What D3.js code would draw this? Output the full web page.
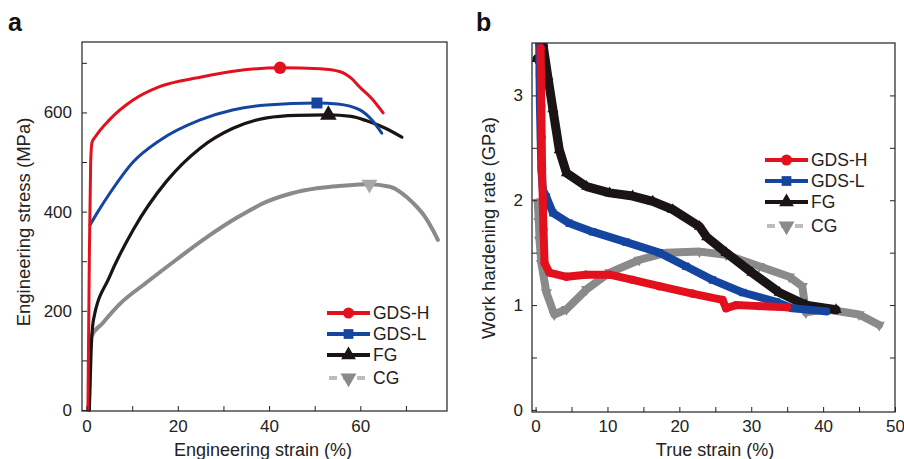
<!DOCTYPE html>
<html><head><meta charset="utf-8">
<script src="https://cdn.jsdelivr.net/npm/d3@7"></script>
<style>
body{margin:0;background:#fff;}
text{font-family:"Liberation Sans",Arial,sans-serif;}
</style></head>
<body><svg id="c" width="904" height="459"></svg>
<script>
// ---------- Panel a data: engineering stress-strain ----------
const seriesNames = ["GDS-H","GDS-L","FG","CG"];
const colors = {"GDS-H":"#e3101d","GDS-L":"#1446a0","FG":"#1a1414","CG":"#8a8a8a"};
const aGDSH = [[0.3,0],[0.6,300],[0.9,500],[1.2,540],[2,552],[5,585],[10.2,625],[16,652],[24.9,671],[33,684],[42.4,690],[51.2,688],[55.6,682],[58,669],[59.9,651],[62.5,628],[65,599]];
const aGDSL = [[0.75,373],[2.5,400],[5.1,437],[10.2,500],[16.1,544],[24.9,585],[32,605],[39.5,615],[50.5,619],[55,617],[59.9,605],[62.5,585],[64.7,558]];
const aFG = [[0.6,0],[1.0,120],[1.5,181],[5,268],[10.2,363],[17.6,462],[24.9,528],[32.1,568],[39.5,589],[46,594],[52.9,595],[58,592],[61.4,583],[65.5,568],[69.1,550]];
const aCG = [[0.5,0],[0.7,100],[1.0,147],[3.5,175],[7.3,214],[13,256],[19.8,304],[26,346],[33,388],[39.5,420],[45,437],[50.5,447],[56,452],[61.7,455],[66.5,450],[69,438],[71.6,417],[74,392],[75.9,363],[77,343]];
const aMarkers = {"GDS-H":[42.4,690],"GDS-L":[50.5,619],"FG":[53,595],"CG":[62,455]};
const aXTicks = [0,20,40,60], aYTicks = [0,200,400,600];

// ---------- Panel b data: work hardening rate vs true strain ----------
const bGDSH = [[0.7,3.45],[0.75,3.2],[0.8,2.9],[0.85,2.6],[0.9,2.3],[1.0,2.0],[1.1,1.72],[1.25,1.4],[1.9,1.31],[4.3,1.27],[7,1.29],[10.3,1.29],[13.5,1.24],[17.2,1.18],[21.8,1.11],[26,1.05],[26.5,0.97],[27.9,1.0],[31.1,0.99],[35,0.98]];
const bGDSL = [[0.5,3.5],[0.55,3.2],[0.6,2.9],[0.7,2.6],[0.8,2.3],[1.0,2.1],[1.5,2.03],[2.4,1.88],[4.7,1.78],[7.9,1.7],[12.6,1.6],[17.2,1.5],[20.9,1.37],[24.6,1.24],[28.8,1.12],[33.5,1.03],[35.7,0.97],[40.4,0.94]];
const bFG = [[0.2,3.35],[0.7,3.33],[1.0,3.5],[1.7,3.18],[2.4,2.87],[3.3,2.48],[4.3,2.26],[7.1,2.13],[10.3,2.07],[13.5,2.04],[16.3,1.99],[19.1,1.91],[22.8,1.75],[23.8,1.65],[26.5,1.5],[30.1,1.31],[33.9,1.12],[37.6,1.0],[41.8,0.955]];
const bCG = [[0.3,1.98],[0.45,1.8],[0.55,1.62],[0.8,1.4],[1.5,1.12],[2.6,0.91],[4.3,0.96],[7.1,1.15],[10.3,1.31],[14.4,1.43],[18.2,1.5],[22.8,1.51],[26.5,1.48],[31.1,1.37],[35.3,1.27],[37.1,1.18],[37.6,0.93],[40.4,0.96],[45,0.91],[47.8,0.81]];
const bXTicks = [0,10,20,30,40,50], bYTicks = [0,1,2,3];

const svg = d3.select("#c");
const symbolOf = {"GDS-H":d3.symbolCircle,"GDS-L":d3.symbolSquare,"FG":d3.symbolTriangle,"CG":d3.symbolTriangle};
function marker(g,name,x,y,size){
  const p = g.append("path").attr("d",d3.symbol(symbolOf[name],size)())
    .attr("fill",colors[name]);
  let tr = `translate(${x},${y})`;
  if(name==="CG") tr += " rotate(180)";
  p.attr("transform",tr);
  return p;
}
function styleAxis(g){
  g.select(".domain").remove();
  g.selectAll("line").attr("stroke","#222");
  g.selectAll("text").attr("font-size",17).attr("fill","#222");
}

// ===== Panel a =====
const ax = d3.scaleLinear().domain([-1,79]).range([82,447]);
const ay = d3.scaleLinear().domain([-2,742]).range([411,42]);
const ga = svg.append("g");
const la = d3.line().x(d=>ax(d[0])).y(d=>ay(d[1])).curve(d3.curveMonotoneX);
[["CG",aCG,4],["FG",aFG,3.2],["GDS-L",aGDSL,3],["GDS-H",aGDSH,3]].forEach(([n,d,w])=>{
  ga.append("path").attr("d",la(d)).attr("fill","none").attr("stroke",colors[n])
    .attr("stroke-width",w).attr("stroke-linejoin","round").attr("stroke-linecap","round");
});
Object.entries(aMarkers).forEach(([n,v])=>{
  marker(ga,n,ax(v[0]),ay(v[1]),n==="CG"?110:120).attr("fill",n==="CG"?"#a8a8a8":colors[n]);
});
ga.append("rect").attr("x",82).attr("y",42).attr("width",365).attr("height",369)
  .attr("fill","none").attr("stroke","#222").attr("stroke-width",1.2);
ga.append("g").attr("transform","translate(0,411)")
  .call(d3.axisBottom(ax).tickValues([0,10,20,30,40,50,60,70]).tickSizeInner(-5).tickSizeOuter(0).tickPadding(9)
    .tickFormat(d=>aXTicks.includes(d)?d:""))
  .call(styleAxis);
ga.append("g").attr("transform","translate(82,0)")
  .call(d3.axisLeft(ay).tickValues([0,100,200,300,400,500,600,700]).tickSizeInner(-5).tickSizeOuter(0).tickPadding(10)
    .tickFormat(d=>aYTicks.includes(d)?d:""))
  .call(styleAxis);
ga.append("text").attr("x",263).attr("y",456).attr("text-anchor","middle").attr("font-size",18).attr("fill","#222").text("Engineering strain (%)");
ga.append("text").attr("transform","translate(30,222) rotate(-90)").attr("text-anchor","middle").attr("font-size",18.5).attr("fill","#222").text("Engineering stress (MPa)");
ga.append("text").attr("x",8).attr("y",31).attr("font-size",25).attr("font-weight","bold").attr("fill","#111").text("a");

// ===== Panel b =====
const bx = d3.scaleLinear().domain([-0.5,50]).range([532,895]);
const by = d3.scaleLinear().domain([-0.02,3.5]).range([412,43]);
const gb = svg.append("g");
const defs = svg.append("defs");
defs.append("clipPath").attr("id","clipb").append("rect").attr("x",532).attr("y",43).attr("width",363).attr("height",369);
const plotB = gb.append("g").attr("clip-path","url(#clipb)");
const lb = d3.line().x(d=>bx(d[0])).y(d=>by(d[1])).curve(d3.curveLinear);
[["CG",bCG],["FG",bFG],["GDS-L",bGDSL],["GDS-H",bGDSH]].forEach(([n,d])=>{
  plotB.append("path").attr("d",lb(d)).attr("fill","none").attr("stroke",colors[n])
    .attr("stroke-width",n==="FG"?9:8).attr("stroke-linejoin","round").attr("stroke-linecap","round");
  d.forEach(p=>marker(plotB,n,bx(p[0]),by(p[1]),55));
});
gb.append("rect").attr("x",532).attr("y",43).attr("width",363).attr("height",369)
  .attr("fill","none").attr("stroke","#222").attr("stroke-width",1.2);
gb.append("g").attr("transform","translate(0,412)")
  .call(d3.axisBottom(bx).tickValues(d3.range(0,51,5)).tickSizeInner(-5).tickSizeOuter(0).tickPadding(8)
    .tickFormat(d=>bXTicks.includes(d)?d:""))
  .call(styleAxis);
gb.append("g").attr("transform","translate(532,0)")
  .call(d3.axisLeft(by).tickValues([0,0.5,1,1.5,2,2.5,3]).tickSizeInner(-5).tickSizeOuter(0).tickPadding(9)
    .tickFormat(d=>bYTicks.includes(d)?d:""))
  .call(styleAxis);
gb.append("g").attr("transform","translate(895,0)")
  .call(d3.axisRight(by).tickValues([0.5,1,1.5,2,2.5,3]).tickSizeInner(-5).tickSizeOuter(0).tickFormat(""))
  .call(styleAxis);
gb.append("text").attr("x",715).attr("y",456).attr("text-anchor","middle").attr("font-size",18).attr("fill","#222").text("True strain (%)");
gb.append("text").attr("transform","translate(495,228) rotate(-90)").attr("text-anchor","middle").attr("font-size",18.5).attr("fill","#222").text("Work hardening rate (GPa)");
gb.append("text").attr("x",476).attr("y",31).attr("font-size",25).attr("font-weight","bold").attr("fill","#111").text("b");

// ===== Legends =====
function legend(g,x0,x1,ys){
  seriesNames.forEach((n,i)=>{
    const y = ys[i];
    const c = n==="CG" ? "#bdbdbd" : colors[n];
    const ln = g.append("line").attr("x1",x0).attr("x2",x1).attr("y1",y).attr("y2",y)
      .attr("stroke",c).attr("stroke-width",4);
    if(n==="CG") ln.attr("stroke-dasharray","8,6").attr("stroke-dashoffset",-2);
    marker(g,n,(x0+x1)/2,y,n==="CG"?110:95).attr("fill",n==="CG"?"#8a8a8a":colors[n]);
    g.append("text").attr("x",x1+3).attr("y",y).attr("dy","0.36em").attr("font-size",17.5).attr("fill","#222").text(n);
  });
}
legend(svg.append("g"),327,370,[313,334,355,378]);
legend(svg.append("g"),765,808,[160,181,202,226]);
</script></body></html>
